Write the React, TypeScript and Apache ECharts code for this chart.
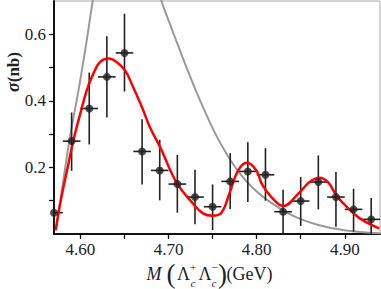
import React, { useEffect, useRef } from "react";
import * as echarts from "echarts";

// Measured cross section (bin centres, values, error-bar ends)
const binCenters = [4.57, 4.59, 4.61, 4.63, 4.65, 4.67, 4.69, 4.71, 4.73, 4.75, 4.77, 4.79, 4.81, 4.83, 4.85, 4.87, 4.89, 4.91, 4.93];
const sigma = [0.064, 0.279, 0.377, 0.472, 0.544, 0.248, 0.191, 0.150, 0.111, 0.082, 0.158, 0.188, 0.178, 0.067, 0.099, 0.156, 0.111, 0.074, 0.044];
const sigmaLow = [0.02, 0.19, 0.269, 0.35, 0.428, 0.149, 0.101, 0.064, 0.029, 0.012, 0.075, 0.096, 0.1, 0.0, 0.024, 0.074, 0.022, 0.007, 0.0];
const sigmaHigh = [0.111, 0.365, 0.485, 0.594, 0.662, 0.345, 0.283, 0.238, 0.193, 0.149, 0.243, 0.276, 0.258, 0.133, 0.171, 0.236, 0.186, 0.136, 0.108];
const halfBin = 0.01;

// Fit curve (red)
const fitX = [4.572, 4.5777, 4.5864, 4.592, 4.5997, 4.607, 4.615, 4.6224, 4.632, 4.641, 4.651, 4.660, 4.670, 4.679, 4.691, 4.709, 4.7276, 4.739, 4.7497, 4.760, 4.769, 4.779, 4.789, 4.7997, 4.806, 4.8167, 4.830, 4.849, 4.860, 4.871, 4.881, 4.8906, 4.902, 4.917, 4.939];
const fitY = [0.012, 0.101, 0.211, 0.281, 0.360, 0.430, 0.484, 0.517, 0.527, 0.517, 0.490, 0.440, 0.380, 0.320, 0.258, 0.155, 0.092, 0.062, 0.055, 0.064, 0.121, 0.191, 0.214, 0.191, 0.150, 0.111, 0.084, 0.126, 0.156, 0.169, 0.156, 0.116, 0.082, 0.047, 0.017];

// Second curve (grey)
const bgX = [4.572, 4.580, 4.588, 4.5977, 4.607, 4.614, 4.625, 4.64, 4.655, 4.67, 4.682, 4.692, 4.701, 4.711, 4.720, 4.7315, 4.743, 4.754, 4.7656, 4.777, 4.792, 4.811, 4.841, 4.870, 4.900, 4.940];
const bgY = [0.01, 0.15, 0.29, 0.43, 0.579, 0.70, 0.86, 0.99, 1.02, 0.93, 0.80, 0.70, 0.635, 0.565, 0.503, 0.428, 0.358, 0.297, 0.242, 0.196, 0.148, 0.104, 0.055, 0.027, 0.011, 0.002];

const xTickValues = [4.60, 4.65, 4.70, 4.75, 4.80, 4.85, 4.90];
const xLabelValues = [4.60, 4.70, 4.80, 4.90];
const yTickValues = [0.1, 0.2, 0.3, 0.4, 0.5, 0.6];
const yLabelValues = [0.2, 0.4, 0.6];

const SERIF = "Liberation Serif, serif";

export default function App() {
  const ref = useRef<HTMLDivElement>(null);
  useEffect(() => {
    if (!ref.current) return;
    const chart = echarts.init(ref.current, undefined, { renderer: "svg" });
    const pts = binCenters.map((x, i) => [x, sigma[i]]);
    const errs = binCenters.map((x, i) => [x, sigma[i], sigmaLow[i], sigmaHigh[i]]);
    const t = (x: number, y: number, text: string, size: number, extra: any = {}) => ({
      type: "text",
      x,
      y,
      silent: true,
      style: {
        text,
        fontFamily: SERIF,
        fontSize: size,
        fill: "#222",
        verticalAlign: "middle",
        align: "left",
        ...extra,
      },
    });
    chart.setOption({
      animation: false,
      grid: {
        left: 54,
        right: 1,
        top: 1,
        bottom: 55,
        show: true,
        borderColor: "#aaa",
        borderWidth: 1,
        backgroundColor: "transparent",
      },
      xAxis: {
        type: "value",
        min: 4.57,
        max: 4.94,
        axisLine: { show: true, onZero: false, lineStyle: { color: "#111", width: 2 } },
        axisTick: { show: true, customValues: xTickValues, length: 5, lineStyle: { color: "#111", width: 1.3 } },
        axisLabel: {
          customValues: xLabelValues,
          formatter: (v: number) => v.toFixed(2),
          fontFamily: SERIF,
          fontSize: 17,
          color: "#222",
          margin: 7,
        },
        splitLine: { show: false },
      },
      yAxis: {
        type: "value",
        min: 0,
        max: 0.7,
        axisLine: { show: true, onZero: false, lineStyle: { color: "#111", width: 2 } },
        axisTick: { show: true, customValues: yTickValues, length: 5, lineStyle: { color: "#111", width: 1.3 } },
        axisLabel: {
          customValues: yLabelValues,
          formatter: (v: number) => v.toFixed(1),
          fontFamily: SERIF,
          fontSize: 17,
          color: "#222",
          margin: 8,
        },
        splitLine: { show: false },
      },
      series: [
        {
          type: "line",
          data: bgX.map((x, i) => [x, bgY[i]]),
          smooth: 0.4,
          showSymbol: false,
          clip: true,
          lineStyle: { color: "#9a9a9a", width: 2 },
          z: 1,
        },
        {
          type: "custom",
          clip: true,
          data: errs,
          z: 2,
          renderItem: (params: any, api: any) => {
            const x = api.value(0);
            const y = api.value(1);
            const lo = api.coord([x, api.value(2)]);
            const hi = api.coord([x, api.value(3)]);
            const l = api.coord([x - halfBin, y]);
            const r = api.coord([x + halfBin, y]);
            const style = { stroke: "#222", lineWidth: 1.6 };
            return {
              type: "group",
              children: [
                { type: "line", shape: { x1: lo[0], y1: lo[1], x2: hi[0], y2: hi[1] }, style },
                { type: "line", shape: { x1: l[0], y1: l[1], x2: r[0], y2: r[1] }, style },
              ],
            };
          },
        },
        {
          type: "line",
          data: fitX.map((x, i) => [x, fitY[i]]),
          smooth: 0.4,
          showSymbol: false,
          clip: true,
          lineStyle: { color: "#ff0000", width: 2.5 },
          z: 3,
        },
        {
          type: "scatter",
          data: pts,
          symbol: "circle",
          symbolSize: 8,
          itemStyle: { color: "#222" },
          clip: true,
          z: 4,
        },
      ],
      graphic: [
        {
          type: "text",
          x: 13,
          y: 72,
          rotation: Math.PI / 2,
          silent: true,
          style: {
            text: "{s|σ}{n|(nb)}",
            align: "center",
            verticalAlign: "middle",
            rich: {
              s: { fontFamily: SERIF, fontSize: 18, fontStyle: "italic", fontWeight: "bold", fill: "#222" },
              n: { fontFamily: SERIF, fontSize: 17, fontWeight: "bold", fill: "#222" },
            },
          },
        },
        t(146.5, 274, "M", 18, { fontStyle: "italic" }),
        t(166.5, 273.5, "(", 27),
        t(177, 274, "Λ", 18),
        t(190, 267, "+", 11),
        t(190.5, 283, "c", 11, { fontStyle: "italic" }),
        t(198.5, 274, "Λ", 18),
        t(211.5, 267, "−", 11),
        t(211.5, 283, "c", 11, { fontStyle: "italic" }),
        t(218, 273.5, ")", 27),
        t(226.5, 274, "(GeV)", 18),
      ],
    });
    return () => chart.dispose();
  }, []);
  return <div ref={ref} style={{ width: 381, height: 289, position: "absolute", left: 0, top: 0 }} />;
}
